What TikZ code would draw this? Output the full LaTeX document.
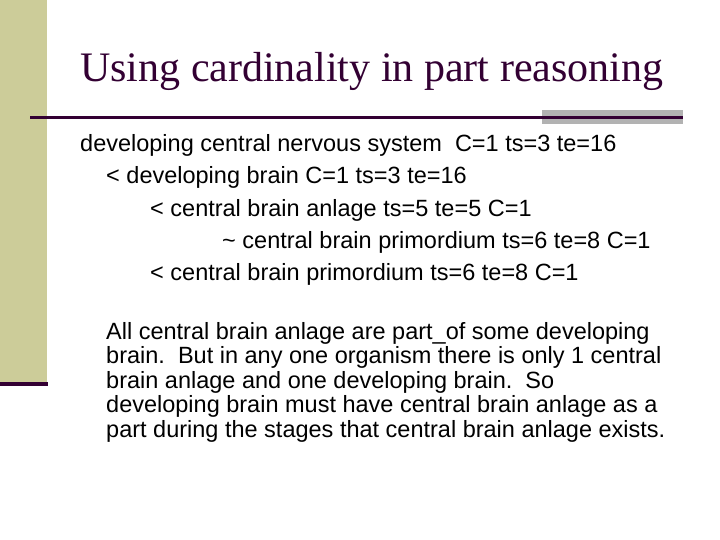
\documentclass[tikz,border=0pt]{standalone}
\usepackage{fontspec}
\setmainfont{Liberation Sans}
\newfontfamily\titlefont{Liberation Serif}
\definecolor{barolive}{RGB}{204,204,153}
\definecolor{deeppurple}{RGB}{51,0,51}
\definecolor{shadowgrey}{RGB}{178,178,178}
\begin{document}
\begin{tikzpicture}[x=1pt,y=-1pt,
    line/.style={anchor=base west,inner sep=0pt,font=\fontsize{23.5}{28}\selectfont},
    para/.style={anchor=north west,inner sep=0pt,align=left,font=\fontsize{23.5}{24.5}\selectfont}]
  \useasboundingbox (0,0) rectangle (720,540);
  %BACKGROUND
  \fill[white] (0,0) rectangle (720,540);
  \fill[barolive] (0,0) rectangle (47,382);
  \fill[deeppurple] (0,382) rectangle (48,386);
  \fill[shadowgrey] (542,110) rectangle (683,124);
  \fill[deeppurple] (30,116) rectangle (683,119.5);
  %TITLE
  \node[anchor=base west,inner sep=0pt,text=deeppurple,font=\titlefont\fontsize{42}{44}\selectfont] (title) at (80,82) {Using cardinality in part reasoning};
  %HIERARCHY
  \node[line] (l1) at (80,152) {developing central nervous system\ \ C=1 ts=3 te=16};
  \node[line] (l2) at (106,184) {< developing brain C=1 ts=3 te=16};
  \node[line] (l3) at (150,216) {< central brain anlage ts=5 te=5 C=1};
  \node[line] (l4) at (222,248) {\char`~\ central brain primordium ts=6 te=8 C=1};
  \node[line] (l5) at (150,280) {< central brain primordium ts=6 te=8 C=1};
  %TEXT
  \node[para] (note) at (106,322) {All central brain anlage are part\_of some developing\\brain.\ \ But in any one organism there is only 1 central\\brain anlage and one developing brain.\ \ So\\developing brain must have central brain anlage as a\\part during the stages that central brain anlage exists.};
\end{tikzpicture}
\end{document}
